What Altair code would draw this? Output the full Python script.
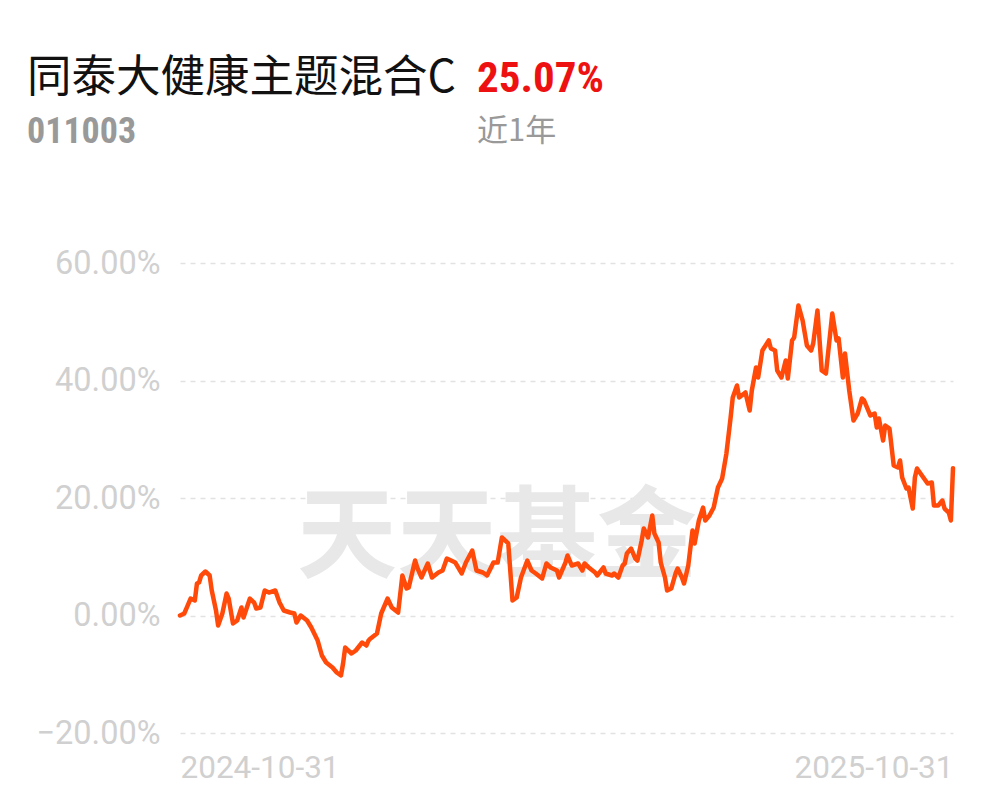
import altair as alt
import pandas as pd

# calendar-day offsets from 2024-10-31 and cumulative return (%)
day_offsets = [0, 2, 3, 5, 7, 8, 9, 10, 12, 14, 15, 17, 18, 20, 22, 23, 25, 27, 29, 30,
               33, 35, 36, 38, 40, 42, 45, 47, 49, 52, 54, 55, 57, 60, 62, 65, 67, 69, 72, 74,
               76, 77, 78, 81, 83, 86, 88, 89, 90, 93, 95, 98, 100, 103, 105, 107, 108, 111, 112, 114,
               117, 119, 122, 124, 126, 128, 130, 133, 135, 138, 140, 143, 145, 148, 150, 152, 155, 157, 159, 161,
               164, 166, 168, 171, 173, 175, 178, 179, 182, 183, 185, 188, 190, 191, 193, 196, 197, 200, 201, 204,
               205, 207, 209, 210, 211, 213, 215, 216, 218, 219, 221, 223, 224, 226, 227, 229, 230, 232, 234, 235,
               237, 238, 240, 242, 243, 245, 247, 248, 250, 252, 254, 256, 258, 260, 261, 263, 264, 267, 269, 270,
               272, 273, 275, 278, 279, 281, 282, 284, 286, 287, 289, 290, 292, 294, 296, 298, 299, 301, 303, 305,
               308, 310, 311, 313, 314, 316, 318, 320, 322, 323, 326, 328, 329, 330, 332, 333, 335, 337, 339, 340,
               341, 343, 344, 346, 347, 348, 351, 353, 355, 356, 358, 360, 361, 363, 364, 365]
returns_pct = [0.0, 0.34, 1.19, 2.89, 2.55, 5.45, 5.62, 6.81, 7.49, 6.81, 4.26, 0.85, -1.70, 0.34, 3.74, 2.89, -1.36, -0.85, 1.36, -0.34,
               2.89, 2.21, 1.19, 1.36, 4.26, 3.91, 4.26, 2.21, 0.85, 0.51, 0.34, -1.19, 0.0, -0.85, -2.04, -4.26, -6.81, -8.0, -8.85, -9.70,
               -10.21, -8.17, -5.45, -6.47, -5.96, -4.60, -5.11, -4.26, -3.91, -3.06, 0.34, 2.89, 1.36, 0.51, 6.81, 4.60, 4.77, 9.36, 8.17, 6.47,
               8.85, 6.47, 7.32, 7.66, 9.70, 9.36, 9.02, 7.15, 9.02, 11.06, 7.66, 7.32, 6.81, 9.02, 9.02, 13.28, 12.26, 2.55, 3.06, 6.47,
               9.36, 7.66, 7.15, 6.30, 8.85, 8.17, 7.66, 6.47, 9.02, 10.21, 8.51, 8.85, 7.66, 8.85, 8.17, 7.32, 6.81, 8.17, 7.15, 6.81,
               7.15, 6.47, 8.51, 8.85, 10.55, 11.40, 9.70, 9.36, 12.77, 14.81, 13.28, 17.02, 13.96, 12.43, 9.02, 6.47, 4.26, 4.60, 7.15, 8.0,
               6.47, 5.45, 8.51, 14.47, 12.26, 16.17, 18.38, 16.17, 17.02, 18.38, 21.79, 23.32, 27.57, 33.70, 37.11, 39.15, 37.11, 37.96, 34.89, 38.30,
               42.21, 40.51, 45.11, 46.81, 45.45, 45.11, 41.70, 40.51, 43.40, 40.34, 46.81, 47.32, 52.77, 50.21, 45.96, 45.11, 46.30, 51.91, 41.70, 41.19,
               51.40, 46.81, 47.15, 40.51, 44.60, 38.30, 33.19, 34.38, 36.94, 36.60, 34.04, 34.38, 32.0, 33.53, 29.79, 32.34, 31.83, 25.53, 25.19, 26.38,
               23.49, 21.62, 21.79, 18.21, 23.49, 25.02, 23.49, 22.47, 22.64, 18.72, 18.72, 19.57, 18.21, 17.53, 16.17, 25.07]

start_date = "2024-10-31"
end_date = "2025-10-31"
fund_name = "同泰大健康主题混合C"
fund_code = "011003"
period_return = "25.07%"
period_label = "近1年"
watermark = "天天基金"
y_ticks = [-20, 0, 20, 40, 60]

dates = pd.to_datetime(start_date) + pd.to_timedelta(day_offsets, unit="D")
df = pd.DataFrame({"date": dates.strftime("%Y-%m-%d"), "ret": returns_pct})

W, H = 773, 470
narrow = "Liberation Sans Narrow, Roboto Condensed, Roboto"

x_enc = alt.X(
    "date:T",
    scale=alt.Scale(domain=[start_date, end_date]),
    axis=alt.Axis(
        values=[start_date, end_date],
        format="%Y-%m-%d",
        labelFlush=True,
        labelFont="Roboto",
        labelFontSize=31.5,
        labelColor="#d0d0d0",
        labelPadding=19,
        domain=False,
        ticks=False,
        grid=False,
        title=None,
    ),
)
y_enc = alt.Y(
    "ret:Q",
    scale=alt.Scale(domain=[-20, 60], nice=False, zero=False),
    axis=alt.Axis(
        values=y_ticks,
        labelExpr="format(datum.value, '.2f') + '%'",
        labelFont="Roboto",
        labelFontSize=32.5,
        labelColor="#d0d0d0",
        labelPadding=20,
        domain=False,
        ticks=False,
        grid=True,
        gridColor="#e2e2e2",
        gridDash=[5, 5],
        gridWidth=1.5,
        title=None,
    ),
)

base = alt.Chart(df)

wm = alt.Chart(pd.DataFrame({"t": [watermark]})).mark_text(
    font="Noto Sans CJK SC", fontSize=100, fontWeight="bold", color="#e8e8e8",
    align="center", baseline="middle",
).encode(x=alt.value(317), y=alt.value(277), text="t:N")

line = base.mark_line(color="#ff4a0a", strokeWidth=4.5, strokeJoin="round", strokeCap="round").encode(
    x=x_enc, y=y_enc
)

t1 = alt.Chart(pd.DataFrame({"t": [fund_name]})).mark_text(
    font="Noto Sans CJK SC", fontSize=44.5, color="#111111", align="left", baseline="middle"
).encode(x=alt.value(-153), y=alt.value(-184), text="t:N")
t2 = alt.Chart(pd.DataFrame({"t": [period_return]})).mark_text(
    font=narrow, fontSize=43, fontWeight="bold", color="#ee1111", align="left", baseline="middle"
).encode(x=alt.value(297), y=alt.value(-184), text="t:N")
t3 = alt.Chart(pd.DataFrame({"t": [fund_code]})).mark_text(
    font=narrow, fontSize=36, fontWeight="bold", color="#999999", align="left", baseline="middle"
).encode(x=alt.value(-153), y=alt.value(-131), text="t:N")
t4 = alt.Chart(pd.DataFrame({"t": [period_label]})).mark_text(
    font="Noto Sans CJK SC", fontSize=31, color="#999999", align="left", baseline="middle"
).encode(x=alt.value(297), y=alt.value(-131), text="t:N")

chart = alt.layer(wm, line, t1, t2, t3, t4).properties(
    width=W, height=H,
    autosize=alt.AutoSizeParams(type="none"),
    padding={"left": 172, "top": 255, "right": 36, "bottom": 60},
).configure(background="white", view=alt.ViewConfig(stroke="transparent", strokeWidth=0))

chart.save("out.html", embed_options={"renderer": "svg", "actions": False})
